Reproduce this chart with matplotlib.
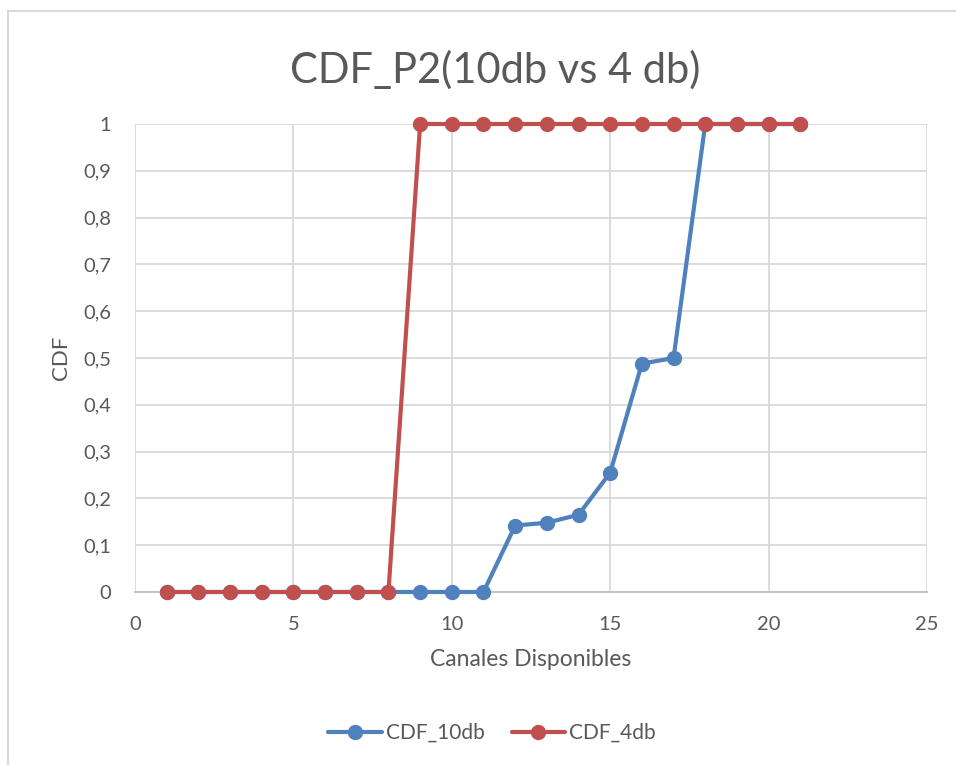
import matplotlib
matplotlib.use("Agg")
import matplotlib.pyplot as plt
from matplotlib.patches import Rectangle
from matplotlib.ticker import FuncFormatter, MultipleLocator

plt.rcParams['font.family'] = ['Lato', 'DejaVu Sans']

# Available channels and the CDF of each configuration
canales = list(range(1, 22))
cdf_10db = [0, 0, 0, 0, 0, 0, 0, 0, 0, 0, 0,
            0.142, 0.148, 0.165, 0.255, 0.488, 0.5, 1, 1, 1, 1]
cdf_4db = [0, 0, 0, 0, 0, 0, 0, 0,
           1, 1, 1, 1, 1, 1, 1, 1, 1, 1, 1, 1, 1]

titulo = "CDF_P2(10db vs 4 db)"
x_label = "Canales Disponibles"
y_label = "CDF"
nombres = ["CDF_10db", "CDF_4db"]

azul = "#4f81bd"
rojo = "#c0504d"
texto = "#595959"
rejilla = "#d9d9d9"

W, H = 956, 765
fig = plt.figure(figsize=(W / 100, H / 100), dpi=100)

# chart area outline
fig.patches.append(Rectangle((8 / W, -0.1), 1.2, 1 - 11 / H + 0.1,
                             transform=fig.transFigure, fill=False,
                             edgecolor="#d9d9d9", linewidth=1.5))

ax = fig.add_axes([135 / W, 1 - 592 / H, (927 - 135) / W, (592 - 124) / H])

ax.plot(canales, cdf_10db, color=azul, lw=3, marker="o", ms=10,
        label=nombres[0], zorder=3, solid_capstyle="round")
ax.plot(canales, cdf_4db, color=rojo, lw=3, marker="o", ms=10,
        label=nombres[1], zorder=4, solid_capstyle="round")

ax.set_xlim(0, 25)
ax.set_ylim(0, 1)
ax.xaxis.set_major_locator(MultipleLocator(5))
ax.yaxis.set_major_locator(MultipleLocator(0.1))
ax.yaxis.set_major_formatter(FuncFormatter(
    lambda v, p: "0" if abs(v) < 1e-9 else ("1" if abs(v - 1) < 1e-9 else f"{v:.1f}".replace(".", ","))))

ax.grid(True, color=rejilla, lw=1.3)
ax.set_axisbelow(True)
for s in ("top", "right", "left"):
    ax.spines[s].set_visible(False)
ax.spines["bottom"].set_color("#bfbfbf")
ax.spines["bottom"].set_linewidth(1.3)
ax.spines["bottom"].set_zorder(1)
ax.tick_params(length=0, labelsize=14.5, colors=texto)
ax.tick_params(axis="x", pad=17)
ax.tick_params(axis="y", pad=17)

ax.set_xlabel(x_label, fontsize=16.5, color=texto, labelpad=12)
ax.set_ylabel(y_label, fontsize=16, color=texto, labelpad=9)

fig.text(495 / W, 1 - 70 / H, titulo, fontsize=30, color=texto,
         ha="center", va="center")

for l in ax.get_lines():
    l.set_clip_on(False)

fig.legend(loc="center", bbox_to_anchor=(492 / W, 1 - 733 / H), ncol=2,
           frameon=False, fontsize=15, labelcolor=texto, handlelength=2.55,
           handletextpad=0.2, columnspacing=1.3)

fig.savefig("out.png", dpi=100, facecolor="white")
